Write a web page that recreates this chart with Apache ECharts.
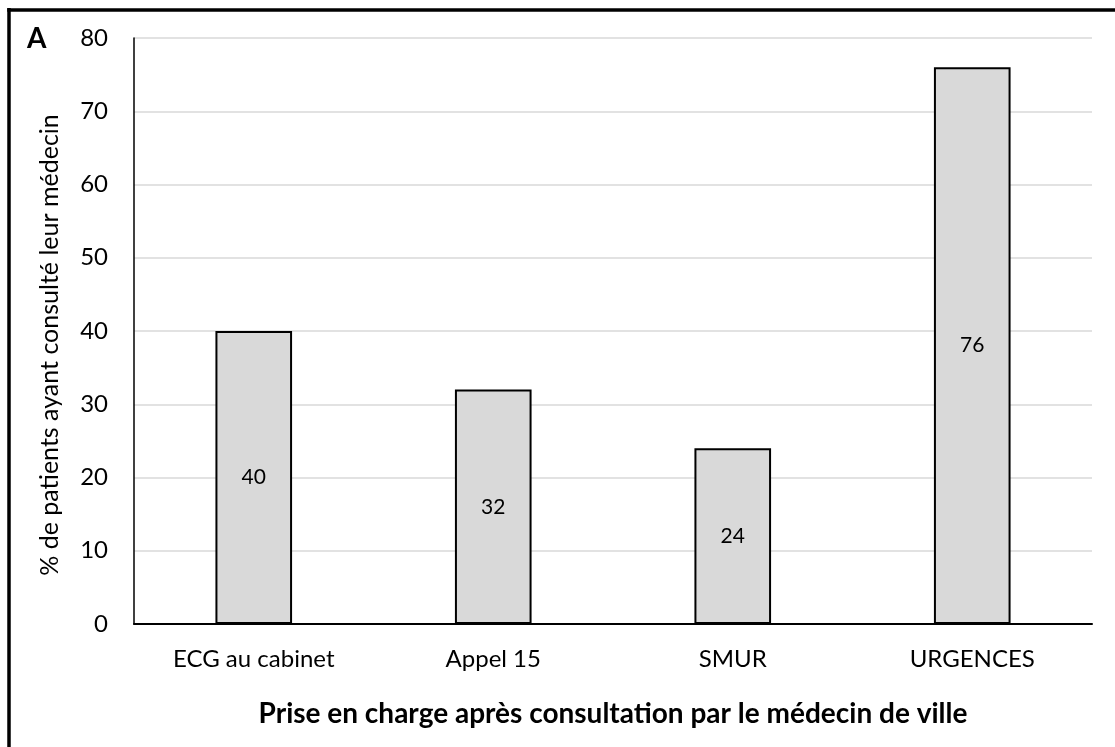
<!DOCTYPE html>
<html><head><meta charset="utf-8">
<script src="https://cdn.jsdelivr.net/npm/echarts@6/dist/echarts.min.js"></script>
<style>html,body{margin:0;padding:0;background:#fff}#c{width:1115px;height:747px}</style>
</head><body><div id="c"></div>
<script>
const categories = ['ECG au cabinet', 'Appel 15', 'SMUR', 'URGENCES'];
const values = [40, 32, 24, 76];
const yTicks = [0, 10, 20, 30, 40, 50, 60, 70, 80];
const xTitle = 'Prise en charge après consultation par le médecin de ville';
const yTitle = '% de patients ayant consulté leur médecin';
const panelLabel = 'A';

const FONT = 'Lato';
const chart = echarts.init(document.getElementById('c'), null, {renderer: 'canvas'});
chart.setOption({
  animation: false,
  backgroundColor: '#fff',
  textStyle: {fontFamily: FONT},
  graphic: [
    {type: 'line', shape: {x1: 9, y1: 8, x2: 9, y2: 747}, style: {stroke: '#000', lineWidth: 3.5}},
    {type: 'line', shape: {x1: 7.25, y1: 10, x2: 1115, y2: 10}, style: {stroke: '#000', lineWidth: 3.5}},
    {type: 'text', left: 27, top: 25, style: {text: panelLabel, font: 'bold 28px ' + FONT, fill: '#000'}}
  ],
  grid: {left: 134, right: 23, top: 38, bottom: 123},
  xAxis: {
    type: 'category', data: categories,
    axisLine: {lineStyle: {color: '#000', width: 2}},
    axisTick: {show: false},
    axisLabel: {color: '#000', fontSize: 24, margin: 23, fontFamily: FONT},
    name: xTitle, nameLocation: 'middle', nameGap: 76,
    nameTextStyle: {color: '#000', fontSize: 28, fontWeight: 'bold', fontFamily: FONT}
  },
  yAxis: {
    type: 'value', min: yTicks[0], max: yTicks[yTicks.length - 1], interval: 10,
    axisLine: {show: true, lineStyle: {color: '#000', width: 1.5}},
    axisTick: {show: false},
    splitLine: {lineStyle: {color: '#d9d9d9', width: 1.5}},
    axisLabel: {color: '#000', fontSize: 24, margin: 26, fontFamily: FONT},
    name: yTitle, nameLocation: 'middle', nameGap: 72, nameRotate: 90,
    nameTextStyle: {color: '#000', fontSize: 25, fontFamily: FONT, padding: [0, 28, 0, 0]}
  },
  series: [{
    type: 'bar', data: values, barWidth: '32%',
    itemStyle: {color: '#d9d9d9', borderColor: '#000', borderWidth: 2},
    label: {show: true, position: 'inside', color: '#000', fontSize: 21, fontFamily: FONT}
  }]
});
</script></body></html>
